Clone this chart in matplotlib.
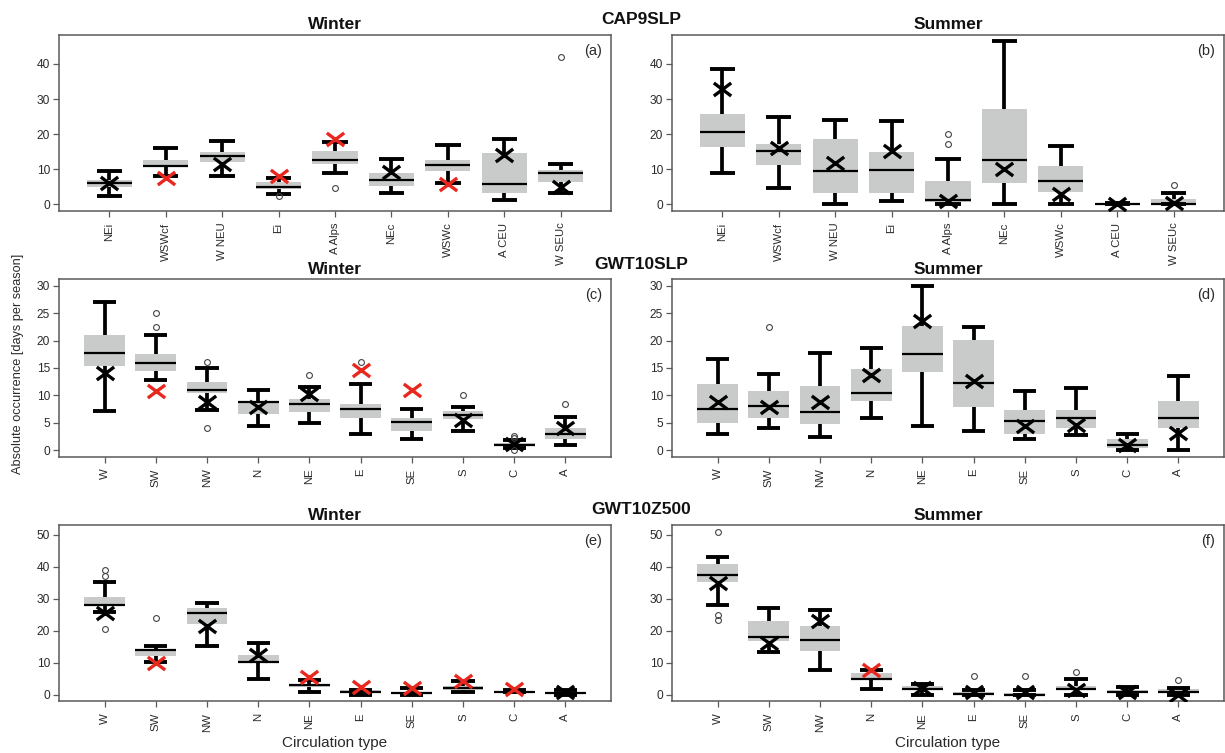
import matplotlib
matplotlib.use("Agg")
import matplotlib.pyplot as plt
from matplotlib.path import Path

plt.rcParams['font.family'] = ['Liberation Sans', 'DejaVu Sans']

# ---------------- data ----------------
cap_labels = ["NEi", "WSWcf", "W NEU", "Ei", "A Alps", "NEc", "WSWc", "A CEU", "W SEUc"]
gwt_labels = ["W", "SW", "NW", "N", "NE", "E", "SE", "S", "C", "A"]

# (a) CAP9SLP winter
a_hi = [9.5, 16.0, 18.0, 7.4, 17.7, 13.0, 17.0, 18.7, 11.5]
a_q3 = [6.8, 12.5, 14.8, 6.2, 15.1, 8.8, 12.7, 14.6, 9.8]
a_med = [6.1, 11.0, 13.8, 5.0, 12.5, 6.9, 11.2, 5.8, 8.8]
a_q1 = [5.0, 10.5, 12.0, 4.2, 11.5, 5.2, 9.6, 3.3, 6.3]
a_lo = [2.3, 7.9, 7.9, 2.9, 8.9, 3.1, 6.1, 1.3, 3.1]
a_out = [[], [], [], [2.4], [4.5], [], [], [], [42.0]]
a_obs = [6.1, 7.6, 11.5, 8.1, 18.7, 9.3, 5.7, 14.0, 5.0]
a_sig = [0, 1, 0, 1, 1, 0, 1, 0, 0]

# (b) CAP9SLP summer
b_hi = [38.6, 25.0, 24.0, 23.6, 13.0, 46.5, 16.5, 0.2, 3.1]
b_q3 = [25.6, 17.1, 18.7, 14.9, 6.6, 27.1, 10.8, 0.1, 1.4]
b_med = [20.6, 15.1, 9.5, 9.8, 1.3, 12.5, 6.7, 0.0, 0.1]
b_q1 = [16.3, 11.1, 3.1, 3.1, 0.5, 6.0, 3.5, 0.0, 0.0]
b_lo = [8.9, 4.5, 0.0, 1.0, 0.0, 0.0, 0.0, 0.0, 0.0]
b_out = [[], [], [], [], [17.2, 19.9], [], [], [], [5.4]]
b_obs = [33.0, 16.0, 11.7, 15.1, 0.9, 10.1, 2.8, 0.0, 0.2]
b_sig = [0, 0, 0, 0, 0, 0, 0, 0, 0]

# (c) GWT10SLP winter
c_hi = [27.0, 21.0, 15.0, 11.0, 11.6, 12.1, 7.5, 7.9, 1.8, 6.0]
c_q3 = [21.1, 17.5, 12.5, 8.9, 9.3, 8.5, 5.8, 7.1, 1.3, 4.0]
c_med = [17.8, 16.0, 11.0, 8.7, 8.5, 7.5, 5.1, 6.5, 1.0, 2.9]
c_q1 = [15.4, 14.4, 10.4, 6.6, 7.0, 5.8, 3.5, 5.6, 0.8, 2.1]
c_lo = [7.1, 12.8, 7.4, 4.4, 5.0, 3.0, 2.0, 3.5, 0.4, 1.0]
c_out = [[], [22.5, 25.0], [4.0, 16.1], [], [13.7], [16.1], [], [10.0], [0.0, 2.2, 2.6], [8.5]]
c_obs = [14.0, 10.8, 8.8, 7.9, 10.3, 14.6, 11.0, 5.5, 1.2, 4.1]
c_sig = [0, 1, 0, 0, 0, 1, 1, 0, 0, 0]

# (d) GWT10SLP summer
d_hi = [16.6, 13.9, 17.7, 18.6, 30.0, 22.5, 10.8, 11.3, 3.0, 13.5]
d_q3 = [12.1, 10.8, 11.8, 14.9, 22.7, 20.2, 7.4, 7.4, 2.0, 9.0]
d_med = [7.5, 8.1, 7.0, 10.5, 17.5, 12.3, 5.4, 5.8, 1.0, 5.9]
d_q1 = [5.0, 5.8, 4.7, 9.0, 14.2, 7.9, 2.9, 4.1, 0.4, 4.1]
d_lo = [3.0, 4.0, 2.4, 5.9, 4.4, 3.5, 2.0, 2.7, 0.0, 0.0]
d_out = [[], [22.5], [], [], [], [], [], [], [], []]
d_obs = [8.8, 7.9, 8.8, 13.7, 23.6, 12.7, 4.4, 4.6, 1.0, 3.2]
d_sig = [0, 0, 0, 0, 0, 0, 0, 0, 0, 0]

# (e) GWT10Z500 winter
e_hi = [35.1, 15.1, 28.6, 16.1, 4.7, 1.4, 2.1, 4.2, 1.4, 1.4]
e_q3 = [30.5, 14.4, 27.1, 12.5, 3.4, 1.5, 1.0, 2.6, 1.2, 1.0]
e_med = [28.1, 13.9, 25.5, 10.1, 3.1, 1.0, 0.5, 2.1, 1.0, 0.5]
e_q1 = [27.6, 12.2, 22.2, 10.1, 2.4, 0.5, 0.2, 1.6, 0.8, 0.2]
e_lo = [26.0, 10.1, 15.1, 5.0, 1.0, 0.0, 0.0, 1.0, 0.8, 0.0]
e_out = [[20.6, 37.0, 38.9], [23.9], [], [], [], [], [], [], [], []]
e_obs = [25.5, 9.9, 21.4, 12.5, 5.4, 2.4, 2.1, 4.2, 1.9, 1.0]
e_sig = [0, 1, 0, 0, 1, 1, 1, 1, 1, 0]

# (f) GWT10Z500 summer
f_hi = [43.0, 27.1, 26.6, 7.8, 3.4, 1.4, 1.4, 5.0, 2.4, 2.1]
f_q3 = [40.9, 22.9, 21.6, 6.8, 2.6, 1.0, 0.5, 2.8, 1.5, 1.9]
f_med = [37.3, 18.2, 17.1, 5.0, 1.9, 0.2, 0.0, 1.9, 1.0, 1.0]
f_q1 = [35.2, 16.9, 13.8, 4.5, 1.4, 0.0, 0.0, 1.4, 0.5, 0.5]
f_lo = [27.9, 13.5, 7.8, 1.9, 0.0, 0.0, 0.0, 0.0, 0.0, 0.0]
f_out = [[23.4, 25.0, 51.0], [], [], [], [], [5.9], [5.9], [7.0], [], [4.5]]
f_obs = [34.9, 16.1, 22.9, 7.8, 2.1, 0.8, 1.0, 1.6, 1.0, 0.0]
f_sig = [0, 0, 0, 1, 0, 0, 0, 0, 0, 0]

row_titles = ["CAP9SLP", "GWT10SLP", "GWT10Z500"]
season_titles = ["Winter", "Summer"]
panel_tags = ["(a)", "(b)", "(c)", "(d)", "(e)", "(f)"]
ylims = [(-1.86, 48.36), (-1.2, 31.2), (-2.04, 53.04)]
yticks = [[0, 10, 20, 30, 40], [0, 5, 10, 15, 20, 25, 30], [0, 10, 20, 30, 40, 50]]

# ---------------- figure ----------------
W, H = 1225, 753
fig = plt.figure(figsize=(W / 100, H / 100), dpi=100)

col_px = [(59, 611), (672, 1224)]
row_px = [(34.7, 210.7), (279.3, 456.7), (525.0, 701.3)]

xmark = Path([(-1, -0.75), (1, 0.75), (-1, 0.75), (1, -0.75)],
             [Path.MOVETO, Path.LINETO, Path.MOVETO, Path.LINETO])

panels = [
    (a_lo, a_q1, a_med, a_q3, a_hi, a_out, a_obs, a_sig, cap_labels),
    (b_lo, b_q1, b_med, b_q3, b_hi, b_out, b_obs, b_sig, cap_labels),
    (c_lo, c_q1, c_med, c_q3, c_hi, c_out, c_obs, c_sig, gwt_labels),
    (d_lo, d_q1, d_med, d_q3, d_hi, d_out, d_obs, d_sig, gwt_labels),
    (e_lo, e_q1, e_med, e_q3, e_hi, e_out, e_obs, e_sig, gwt_labels),
    (f_lo, f_q1, f_med, f_q3, f_hi, f_out, f_obs, f_sig, gwt_labels),
]

frame_col = '#5a5a5a'
text_col = '#2a2a2a'
box_col = '#c9caca'
red = '#e8281e'

for i, (lo, q1, med, q3, hi, out, obs, sig, labels) in enumerate(panels):
    r, c = divmod(i, 2)
    x0, x1 = col_px[c]
    t, b = row_px[r]
    ax = fig.add_axes([x0 / W, 1 - b / H, (x1 - x0) / W, (b - t) / H])
    n = len(labels)
    pos = list(range(1, n + 1))
    stats = [dict(whislo=lo[k], q1=q1[k], med=med[k], q3=q3[k], whishi=hi[k],
                  fliers=out[k]) for k in range(n)]
    ax.bxp(stats, positions=pos, widths=0.8, capwidths=0.45, patch_artist=True,
           manage_ticks=False,
           boxprops=dict(facecolor=box_col, edgecolor='none', linewidth=0),
           medianprops=dict(color='black', linewidth=1.6, solid_capstyle='butt'),
           whiskerprops=dict(color='black', linewidth=2.7, solid_capstyle='butt'),
           capprops=dict(color='black', linewidth=2.8, solid_capstyle='butt'),
           flierprops=dict(marker='o', markersize=4.2, markerfacecolor='none',
                           markeredgecolor='#444444', markeredgewidth=0.8,
                           linestyle='none'))
    for k in range(n):
        ax.plot(pos[k], obs[k], marker=xmark, markersize=12.5,
                markeredgewidth=2.4, color=(red if sig[k] else 'black'),
                linestyle='none', zorder=5)
    margin = 0.89
    ax.set_xlim(1 - margin, n + margin)
    ax.set_ylim(*ylims[r])
    ax.set_yticks(yticks[r])
    ax.set_xticks(pos)
    ax.set_xticklabels(labels, rotation=90, va='top', ha='center')
    ax.tick_params(axis='both', direction='out', length=4.5, width=0.9,
                   color=frame_col, labelcolor=text_col)
    ax.tick_params(axis='x', pad=4, labelsize=8.2)
    ax.tick_params(axis='y', pad=2, labelsize=8.6)
    for sp in ax.spines.values():
        sp.set_color(frame_col)
        sp.set_linewidth(1.1)
    ax.text(1 - 9 / (x1 - x0), 1 - 16 / (b - t), panel_tags[i],
            transform=ax.transAxes, ha='right', va='center',
            fontsize=10.5, color=text_col)
    # season title
    fig.text(((x0 + x1) / 2) / W, 1 - (t - 5.5) / H, season_titles[c],
             ha='center', va='baseline', fontsize=12.5, fontweight='bold',
             color='#111111')

for r in range(3):
    t = row_px[r][0]
    fig.text(641 / W, 1 - (t - 10.5) / H, row_titles[r], ha='center',
             va='baseline', fontsize=12.5, fontweight='bold', color='#111111')

fig.text(18 / W, 1 - 364 / H, "Absolute occurrence [days per season]",
         rotation=90, ha='center', va='center', fontsize=9.2, color=text_col)
for c in range(2):
    x0, x1 = col_px[c]
    fig.text(((x0 + x1) / 2) / W, 1 - 747 / H, "Circulation type",
             ha='center', va='baseline', fontsize=11, color=text_col)

fig.savefig("out.png", dpi=100)
